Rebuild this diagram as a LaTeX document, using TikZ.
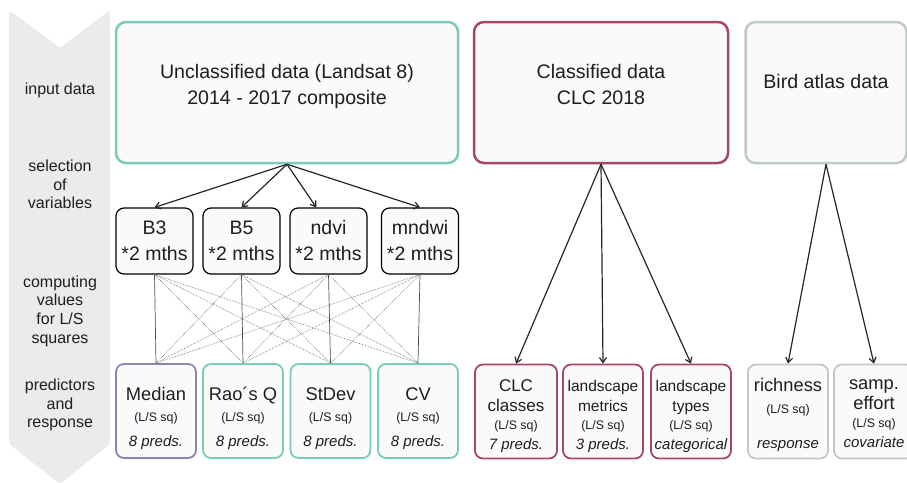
\documentclass[tikz,border=0pt]{standalone}
\usepackage{fontspec}
\setmainfont{Liberation Sans}
\usetikzlibrary{arrows.meta}
\definecolor{tealline}{HTML}{7ACBBA}
\definecolor{wine}{HTML}{A6466F}
\definecolor{ashgray}{HTML}{BEC9C8}
\definecolor{lilac}{HTML}{8A84B6}
\definecolor{boxfill}{HTML}{FAFAFA}
\definecolor{bandgray}{HTML}{EBEBEB}
\definecolor{ink}{HTML}{1E1E1E}
\newcommand{\fsub}{\fontsize{12.4}{15}\selectfont}
\newcommand{\fnote}{\fontsize{15}{18}\selectfont\itshape}
\newcommand{\ftitle}{\fontsize{18.3}{22}\selectfont}
\newcommand{\fland}{\fontsize{15.5}{19}\selectfont}
\begin{document}
\begin{tikzpicture}[x=1pt, y=-1pt, every node/.style={text=ink}]
\useasboundingbox (0,0) rectangle (907,482);

% grey band on the left
\fill[bandgray, rounded corners=3pt] (9,10) -- (60,48) -- (110,10) -- (110,444) -- (60,484) -- (9,444) -- cycle;

\tikzset{rowlabel/.style={align=center, font=\fontsize{16}{18.6}\selectfont}}
\node[rowlabel] (input) at (60,90) {input data};
\node[rowlabel] (select) at (60,184.5) {selection\\of\\variables};
\node[rowlabel] (compute) at (60,311) {computing\\values\\for L/S\\squares};
\node[rowlabel] (predict) at (60,405) {predictors\\and\\response};

% input data
\tikzset{bigbox/.style={draw, rounded corners=10pt, line width=2.5pt, fill=boxfill, align=center, inner sep=0pt, minimum height=141pt, font=\fontsize{19.6}{26}\selectfont}}
\node[bigbox, draw=tealline, minimum width=342pt, text depth=17pt] (unclass) at (287,92.5) {Unclassified data (Landsat 8)\\2014 - 2017 composite};
\node[bigbox, draw=wine, minimum width=254pt, text depth=16pt] (classif) at (601,92.5) {Classified data\\CLC 2018};
\node[bigbox, draw=ashgray, minimum width=161pt, text depth=23pt] (birds) at (826,92.5) {Bird atlas data};

% variables
\tikzset{varbox/.style={draw=black, rounded corners=8pt, line width=1.2pt, fill=boxfill, align=center, inner sep=0pt, minimum width=77pt, minimum height=66pt, font=\fontsize{19.5}{26}\selectfont}}
\node[varbox] (b3) at (154.5,241) {B3\\*2 mths};
\node[varbox] (b5) at (241.5,241) {B5\\*2 mths};
\node[varbox] (ndvi) at (328.5,241) {ndvi\\*2 mths};
\node[varbox] (mndwi) at (420,241) {mndwi\\*2 mths};

% predictors and response
\tikzset{predbox/.style={draw, rounded corners=8pt, line width=1.8pt, fill=boxfill, align=center, inner sep=0pt, minimum width=80pt, minimum height=94pt}}
\tikzset{statbox/.style={predbox, draw=tealline, font=\fontsize{15}{21}\selectfont, text depth=-13pt}}
\node[statbox, draw=lilac] (median) at (156,411) {{\ftitle\rule{0pt}{25pt}Median}\\[-0.5pt]{\fsub (L/S sq)}\\[4pt]{\fnote 8 preds.}};
\node[statbox] (raosq) at (243,411) {{\ftitle\rule{0pt}{25pt}Rao´s Q}\\[-0.5pt]{\fsub (L/S sq)}\\[4pt]{\fnote 8 preds.}};
\node[statbox] (stdev) at (330.5,411) {{\ftitle\rule{0pt}{25pt}StDev}\\[-0.5pt]{\fsub (L/S sq)}\\[4pt]{\fnote 8 preds.}};
\node[statbox] (cv) at (418,411) {{\ftitle\rule{0pt}{25pt}CV}\\[-0.5pt]{\fsub (L/S sq)}\\[4pt]{\fnote 8 preds.}};

\tikzset{landbox/.style={predbox, draw=wine, font=\fontsize{15}{20}\selectfont, text depth=-4pt}}
\node[landbox, minimum width=82pt] (clc) at (516,411.5) {{\fontsize{17}{19}\selectfont\rule{0pt}{17pt}CLC}\\{\fontsize{17}{19}\selectfont classes}\\[-2pt]{\fsub (L/S sq)}\\{\fnote 7 preds.}};
\node[landbox] (metrics) at (603,411.5) {{\fland\rule{0pt}{17pt}landscape}\\{\fland metrics}\\[-2pt]{\fsub (L/S sq)}\\{\fnote 3 preds.}};
\node[landbox] (types) at (691,411.5) {{\fland\rule{0pt}{17pt}landscape}\\{\fland types}\\[-2pt]{\fsub (L/S sq)}\\{\fnote categorical}};

\tikzset{birdbox/.style={predbox, draw=ashgray, font=\fontsize{15}{20}\selectfont, text depth=-4pt}}
\node[birdbox] (rich) at (788,411.5) {{\ftitle\rule{0pt}{16pt}richness}\\[2pt]{\fsub (L/S sq)}\\[15pt]{\fnote response}};
\node[birdbox] (effort) at (874,411.5) {{\ftitle\rule{0pt}{13pt}samp.}\\{\ftitle effort}\\[-2pt]{\fsub (L/S sq)}\\{\fnote covariate}};

\tikzset{arrowstyle/.style={-{Straight Barb[length=5pt,width=7pt]}, line width=1.2pt, black!85}}
\path (unclass.south) edge [arrowstyle] (b3.north);
\path (unclass.south) edge [arrowstyle] (b5.north);
\path (unclass.south) edge [arrowstyle] (ndvi.110);
\path (unclass.south) edge [arrowstyle] (mndwi.north);
\path (classif.south) edge [arrowstyle] (clc.north);
\path (classif.south) edge [arrowstyle] (metrics.north);
\path (classif.south) edge [arrowstyle] (types.north);
\path (birds.south) edge [arrowstyle] (rich.north);
\path (birds.south) edge [arrowstyle] (effort.north);

% every variable to every statistic
\tikzset{vline/.style={line width=0.7pt, black!70}}
\tikzset{xline/.style={line width=0.6pt, black!60, densely dotted}}
\path (b3.south) edge [vline] (median.north);
\path (b3.south) edge [xline] (raosq.north);
\path (b3.south) edge [xline] (stdev.north);
\path (b3.south) edge [xline] (cv.north);
\path (b5.south) edge [xline] (median.north);
\path (b5.south) edge [vline] (raosq.north);
\path (b5.south) edge [xline] (stdev.north);
\path (b5.south) edge [xline] (cv.north);
\path (ndvi.south) edge [xline] (median.north);
\path (ndvi.south) edge [xline] (raosq.north);
\path (ndvi.south) edge [vline] (stdev.north);
\path (ndvi.south) edge [xline] (cv.north);
\path (mndwi.south) edge [xline] (median.north);
\path (mndwi.south) edge [xline] (raosq.north);
\path (mndwi.south) edge [xline] (stdev.north);
\path (mndwi.south) edge [vline] (cv.north);

\end{tikzpicture}
\end{document}
